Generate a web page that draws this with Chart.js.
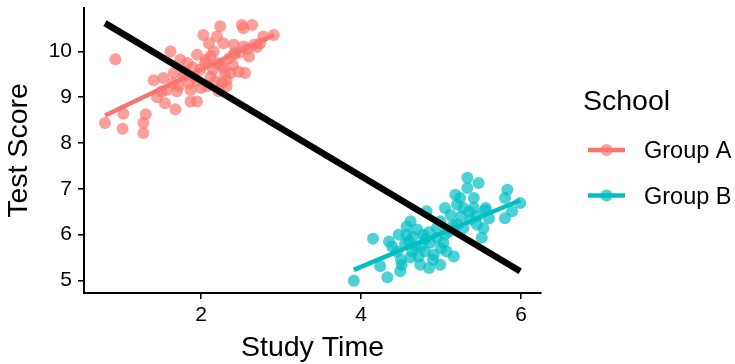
<!DOCTYPE html>
<html lang="en">
<head>
<meta charset="UTF-8" />
<title>Study Time vs Test Score</title>
<script src="https://cdn.jsdelivr.net/npm/chart.js"></script>
<style>
  html, body { margin: 0; padding: 0; background: #fff; }
  #wrap { width: 735px; height: 364px; }
</style>
</head>
<body>
<div id="wrap"><canvas id="myChart" width="735" height="364"></canvas></div>
<script>
// study time / test score per student, split by school
const groupAX = [0.93, 0.80, 1.02, 1.03, 1.28, 1.28, 1.31, 1.41, 1.45, 1.55, 1.68, 1.53, 1.62, 1.57, 1.66,
  1.72, 1.74, 1.87, 1.95, 1.87, 1.83, 1.95, 1.91, 1.99, 2.05, 2.08, 2.12, 2.03, 2.10, 2.20,
  2.24, 2.28, 2.16, 2.20, 2.28, 2.22, 2.32, 2.32, 2.37, 2.41, 2.41, 2.47, 2.51, 2.53, 2.64,
  2.53, 2.55, 2.60, 2.66, 2.78, 2.91, 2.74, 2.42, 2.26, 2.06, 1.78, 1.70, 1.51,
  2.15, 2.25, 2.30, 2.18, 1.85, 1.80, 1.95, 2.00, 2.35, 2.48, 2.58, 2.70, 2.40, 2.12, 1.65, 1.90];
const groupAY = [9.83, 8.44, 8.31, 8.64, 8.22, 8.44, 8.63, 9.37, 9.00, 8.87, 8.74, 9.42, 10.00, 9.16, 9.53,
  9.24, 9.82, 8.91, 8.91, 9.16, 9.75, 9.93, 9.45, 9.60, 9.75, 9.24, 9.45, 10.36, 10.18, 10.33,
  10.55, 10.18, 10.00, 9.75, 9.64, 9.13, 9.24, 9.38, 9.53, 10.15, 9.93, 9.56, 10.58, 10.51, 10.58,
  10.11, 9.53, 9.89, 10.15, 10.33, 10.36, 10.18, 9.96, 9.30, 9.82, 9.45, 9.13, 9.13,
  9.60, 9.70, 9.50, 9.35, 9.30, 9.55, 9.35, 9.20, 9.85, 9.98, 10.05, 10.10, 9.70, 9.90, 9.30, 9.65];

const groupBX = [3.91, 4.15, 4.33, 4.24, 4.35, 4.45, 4.49, 4.51, 4.47, 4.57, 4.62, 4.60, 4.68, 4.74, 4.72,
  4.85, 4.78, 4.82, 4.87, 4.91, 4.99, 4.95, 4.99, 5.05, 5.07, 5.16, 5.12, 5.18, 5.20, 5.24,
  5.28, 5.33, 5.33, 5.41, 5.41, 5.47, 5.37, 5.45, 5.53, 5.51, 5.55, 5.56, 5.28, 5.20, 5.10,
  4.70, 4.57, 4.39, 4.64, 5.83, 5.80, 5.89, 5.99, 5.80, 5.03, 4.80,
  4.55, 4.65, 4.75, 4.85, 4.95, 5.00, 4.90, 4.62, 5.15, 5.25, 5.35, 5.45, 5.60, 4.50, 5.05, 4.80];
const groupBY = [4.99, 5.91, 5.07, 5.31, 5.85, 5.63, 5.20, 5.34, 6.00, 6.18, 6.29, 5.85, 5.74, 5.34, 5.52,
  5.27, 6.00, 6.51, 5.82, 5.56, 5.34, 5.93, 6.29, 6.58, 5.63, 5.52, 6.43, 6.87, 6.65, 6.80,
  6.58, 7.24, 7.02, 6.80, 6.58, 7.13, 6.33, 6.22, 6.14, 5.93, 6.54, 6.58, 6.14, 6.22, 6.07,
  6.11, 6.00, 5.74, 5.63, 6.98, 6.80, 6.51, 6.69, 6.36, 5.82, 5.63,
  5.80, 5.95, 5.75, 6.05, 6.15, 5.70, 5.45, 5.50, 6.20, 6.40, 6.50, 6.40, 6.35, 5.45, 6.00, 5.90];

// linear fits: ends of each fitted line (x range of the data it covers)
const fitAllX = [0.80, 5.99];
const fitAllY = [10.62, 5.20];
const fitAX = [0.80, 2.91];
const fitAY = [8.60, 10.36];
const fitBX = [3.91, 5.99];
const fitBY = [5.23, 6.75];

const groupNames = ["Group A", "Group B"];
const groupColors = ["#F8766D", "#00BFC4"];
const xTicks = [2, 4, 6];
const yTicks = [5, 6, 7, 8, 9, 10];

const FONT = "'Liberation Sans', Arial, Helvetica, sans-serif";

function toPoints(xs, ys) {
  return xs.map((x, i) => ({ x: x, y: ys[i] }));
}

function withAlpha(hex, a) {
  const r = parseInt(hex.slice(1, 3), 16), g = parseInt(hex.slice(3, 5), 16), b = parseInt(hex.slice(5, 7), 16);
  return `rgba(${r},${g},${b},${a})`;
}

const pointSet = (label, xs, ys, color) => ({
  type: "scatter",
  label: label,
  data: toPoints(xs, ys),
  backgroundColor: withAlpha(color, 0.7),
  borderWidth: 0,
  pointRadius: 6,
  order: 2,
});

const fitSet = (label, xs, ys, color, width, order) => ({
  type: "line",
  label: label,
  data: toPoints(xs, ys),
  borderColor: color,
  borderWidth: width,
  pointRadius: 0,
  fill: false,
  order: order,
});

// legend in the right margin: title plus a line-and-dot key per group
const schoolLegend = {
  id: "schoolLegend",
  afterDraw(chart) {
    const ctx = chart.ctx;
    ctx.save();
    ctx.fillStyle = "#000";
    ctx.textBaseline = "alphabetic";
    ctx.textAlign = "left";
    ctx.font = `28.5px ${FONT}`;
    ctx.fillText("School", 583, 109.5);
    groupNames.forEach((name, i) => {
      const y = 150 + i * 45.5;
      ctx.strokeStyle = groupColors[i];
      ctx.lineWidth = 4.5;
      ctx.beginPath();
      ctx.moveTo(588, y);
      ctx.lineTo(625, y);
      ctx.stroke();
      ctx.fillStyle = withAlpha(groupColors[i], 0.7);
      ctx.beginPath();
      ctx.arc(606.5, y, 6, 0, Math.PI * 2);
      ctx.fill();
      ctx.fillStyle = "#000";
      ctx.font = `23.5px ${FONT}`;
      ctx.fillText(name, 644, y + 8.3);
    });
    ctx.restore();
  },
};

const ctx = document.getElementById("myChart").getContext("2d");

new Chart(ctx, {
  type: "scatter",
  data: {
    datasets: [
      fitSet("Overall", fitAllX, fitAllY, "#000", 6.5, 0),
      fitSet(groupNames[0] + " fit", fitAX, fitAY, groupColors[0], 4.5, 1),
      fitSet(groupNames[1] + " fit", fitBX, fitBY, groupColors[1], 4.5, 1),
      pointSet(groupNames[0], groupAX, groupAY, groupColors[0]),
      pointSet(groupNames[1], groupBX, groupBY, groupColors[1]),
    ],
  },
  options: {
    responsive: false,
    animation: false,
    layout: { padding: { left: 0, right: 194, top: 8, bottom: 0 } },
    plugins: {
      legend: { display: false },
      tooltip: { enabled: false },
    },
    scales: {
      x: {
        type: "linear",
        min: 0.5375,
        max: 6.25,
        afterBuildTicks: (scale) => { scale.ticks = xTicks.map((v) => ({ value: v })); },
        afterFit: (scale) => { scale.height = 71; scale.paddingLeft = 0; scale.paddingRight = 0; },
        grid: { display: true, drawOnChartArea: false, drawTicks: true, tickLength: 6, color: "#000", lineWidth: 1.6 },
        border: { display: true, color: "#000", width: 2 },
        ticks: { color: "#000", font: { family: FONT, size: 21 }, padding: 4, maxRotation: 0 },
        title: { display: true, text: "Study Time", color: "#000", font: { family: FONT, size: 28.5 }, padding: { top: 0, bottom: -1 } },
      },
      y: {
        type: "linear",
        min: 4.725,
        max: 10.95,
        afterBuildTicks: (scale) => { scale.ticks = yTicks.map((v) => ({ value: v })); },
        afterFit: (scale) => { scale.width = 84; scale.paddingTop = 0; scale.paddingBottom = 0; },
        grid: { display: true, drawOnChartArea: false, drawTicks: true, tickLength: 6, color: "#000", lineWidth: 1.6 },
        border: { display: true, color: "#000", width: 2 },
        ticks: { color: "#000", font: { family: FONT, size: 21 }, padding: 6 },
        title: { display: true, text: "Test Score", color: "#000", font: { family: FONT, size: 28.5 }, padding: { top: 2, bottom: 0 } },
      },
    },
  },
  plugins: [schoolLegend],
});
</script>
</body>
</html>
